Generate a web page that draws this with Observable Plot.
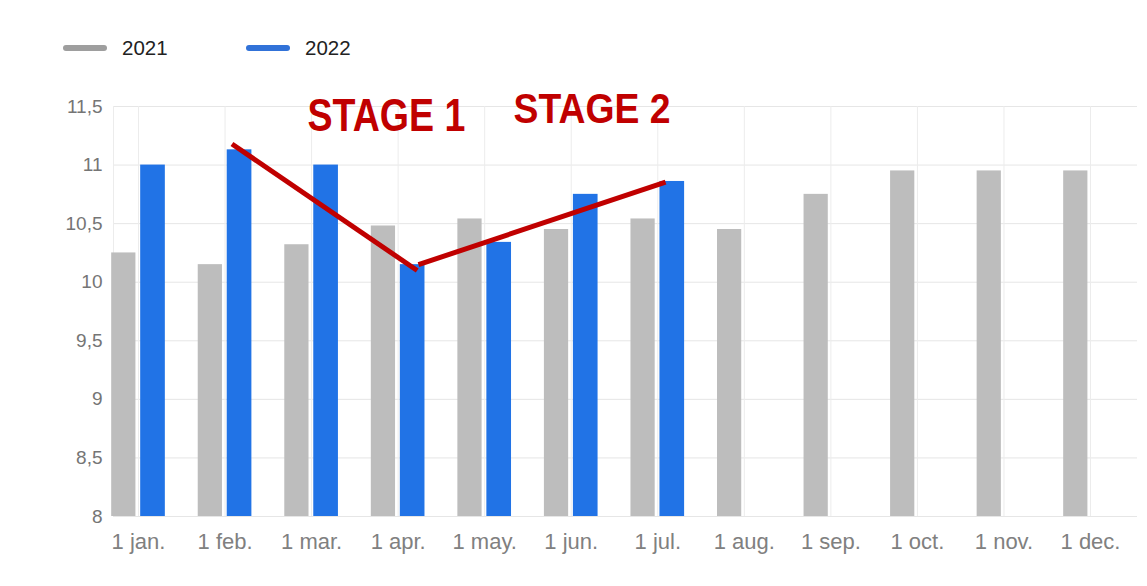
<!DOCTYPE html>
<html>
<head>
<meta charset="utf-8">
<script src="https://cdn.jsdelivr.net/npm/d3@7"></script>
<script src="https://cdn.jsdelivr.net/npm/@observablehq/plot@0.6"></script>
<style>
  html, body { margin: 0; padding: 0; background: #fff; }
  body { font-family: Arial, "Liberation Sans", Helvetica, sans-serif; width: 1147px; height: 586px; overflow: hidden; }
  #legend { position: relative; height: 80px; }
  .sw { position: absolute; top: 45px; width: 44px; height: 6px; border-radius: 3px; }
  .lt { position: absolute; top: 37px; font-size: 20.5px; color: #222; line-height: 22px; }
</style>
</head>
<body>
<div id="legend"></div>
<div id="chart"></div>
<script>
// ---- data ----
const months = ["1 jan.", "1 feb.", "1 mar.", "1 apr.", "1 may.", "1 jun.", "1 jul.", "1 aug.", "1 sep.", "1 oct.", "1 nov.", "1 dec."];
const values2021 = [10.25, 10.15, 10.32, 10.48, 10.54, 10.45, 10.54, 10.45, 10.75, 10.95, 10.95, 10.95];
const values2022 = [11.0, 11.13, 11.0, 10.15, 10.34, 10.75, 10.86];
const seriesNames = ["2021", "2022"];
const seriesColors = ["#bdbdbd", "#2173e6"];
const legendColors = ["#9e9e9e", "#3172d8"];
const yTicks = [8, 8.5, 9, 9.5, 10, 10.5, 11, 11.5];
// annotation (month index, value)
const stage1Line = [{m: 1.08, v: 11.18}, {m: 3.22, v: 10.10}];
const stage2Line = [{m: 3.235, v: 10.15}, {m: 6.09, v: 10.855}];
const stageLabels = [
  {label: "STAGE 1", m: 2.865, v: 11.295},
  {label: "STAGE 2", m: 5.24, v: 11.36}
];

// ---- legend ----
const legend = document.getElementById("legend");
const legendX = [[63, 122], [246, 305]];
seriesNames.forEach((name, k) => {
  const sw = document.createElement("div");
  sw.className = "sw";
  sw.style.left = legendX[k][0] + "px";
  sw.style.background = legendColors[k];
  legend.appendChild(sw);
  const t = document.createElement("div");
  t.className = "lt";
  t.style.left = legendX[k][1] + "px";
  t.textContent = name;
  legend.appendChild(t);
});

// ---- chart ----
const data2021 = values2021.map((v, i) => ({i, v}));
const data2022 = values2022.map((v, i) => ({i, v}));
const xDomain = [-0.289, 11.543];
const yDomain = [8, 11.5];
const fmt = d => String(d).replace(".", ",");
const red = "#c00000";
const stageSize = {"STAGE 1": 46, "STAGE 2": 43};
const stageWidth = {"STAGE 1": 158, "STAGE 2": 157};

const chart = Plot.plot({
  width: 1147,
  height: 506,
  marginLeft: 113,
  marginRight: 10,
  marginTop: 26,
  marginBottom: 70,
  style: {color: "#777", fontFamily: "Arial, 'Liberation Sans', sans-serif", background: "transparent", overflow: "visible"},
  x: {domain: xDomain, axis: null},
  y: {domain: yDomain, axis: null},
  marks: [
    Plot.gridY(yTicks, {stroke: "#e6e6e6", strokeOpacity: 1}),
    Plot.gridX(d3.range(months.length), {stroke: "#ececec", strokeOpacity: 1}),
    Plot.ruleX([xDomain[0]], {stroke: "#ececec"}),
    Plot.rect(data2021, {x1: d => d.i - 0.31, x2: d => d.i - 0.03, y1: yDomain[0], y2: "v", fill: seriesColors[0]}),
    Plot.rect(data2022, {x1: d => d.i + 0.025, x2: d => d.i + 0.31, y1: yDomain[0], y2: "v", fill: seriesColors[1]}),
    Plot.axisY({ticks: yTicks, tickFormat: fmt, tickSize: 0, tickPadding: 11, fontSize: 19, fill: "#757575", label: null}),
    Plot.axisX({ticks: d3.range(months.length), tickFormat: i => months[i], tickSize: 0, tickPadding: 17, fontSize: 22, fill: "#808080", label: null}),
    Plot.line(stage1Line, {x: "m", y: "v", stroke: red, strokeWidth: 5, strokeLinecap: "butt"}),
    Plot.line(stage2Line, {x: "m", y: "v", stroke: red, strokeWidth: 5, strokeLinecap: "butt"}),
    Plot.text(stageLabels, {x: "m", y: "v", text: "label", fill: red, fontSize: d => stageSize[d.label], fontWeight: "bold",
      fontFamily: "Arial, 'Liberation Sans', sans-serif", lineAnchor: "bottom", textAnchor: "middle"})
  ]
});
// condense the annotation labels horizontally, like the reference
chart.querySelectorAll("text").forEach(t => {
  const w = stageWidth[t.textContent];
  if (w) {
    t.setAttribute("textLength", w);
    t.setAttribute("lengthAdjust", "spacingAndGlyphs");
  }
});
document.getElementById("chart").appendChild(chart);
</script>
</body>
</html>
